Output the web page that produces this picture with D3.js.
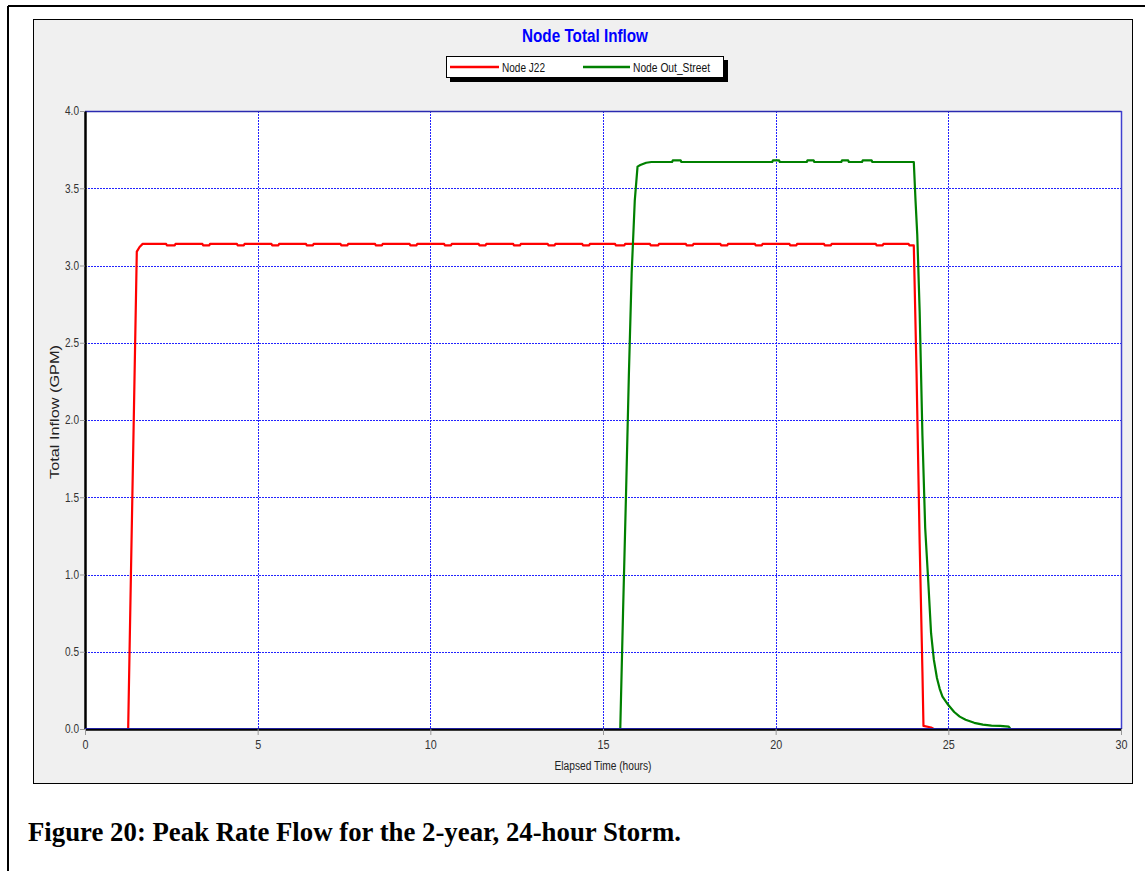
<!DOCTYPE html>
<html><head><meta charset="utf-8">
<script src="https://cdn.jsdelivr.net/npm/d3@7"></script>
<style>
body{margin:0;background:#fff;}
svg{display:block;}
</style></head>
<body>
<svg id="c" width="1145" height="871"></svg>
<script>
// ---------- data ----------
const chartTitle = "Node Total Inflow";
const caption = "Figure 20: Peak Rate Flow for the 2-year, 24-hour Storm.";
const xLabel = "Elapsed Time (hours)";
const yLabel = "Total Inflow (GPM)";
const seriesNames = ["Node J22", "Node Out_Street"];
const xTicks = [0, 5, 10, 15, 20, 25, 30];
const yTicks = [0.0, 0.5, 1.0, 1.5, 2.0, 2.5, 3.0, 3.5, 4.0];

// Node J22 [hours, GPM]
const j22 = [
  [0,0],[1.25,0],[1.33,1.0],[1.42,2.1],[1.5,3.09],[1.58,3.12],[1.67,3.14],
  [2.35,3.14],[2.37,3.13],[2.6,3.13],[2.62,3.14],
  [3.4,3.14],[3.42,3.13],[3.6,3.13],[3.62,3.14],
  [4.4,3.14],[4.42,3.13],[4.6,3.13],[4.62,3.14],
  [5.4,3.14],[5.42,3.13],[5.6,3.13],[5.62,3.14],
  [6.4,3.14],[6.42,3.13],[6.6,3.13],[6.62,3.14],
  [7.4,3.14],[7.42,3.13],[7.6,3.13],[7.62,3.14],
  [8.4,3.14],[8.42,3.13],[8.6,3.13],[8.62,3.14],
  [9.4,3.14],[9.42,3.13],[9.6,3.13],[9.62,3.14],
  [10.4,3.14],[10.42,3.13],[10.6,3.13],[10.62,3.14],
  [11.4,3.14],[11.42,3.13],[11.6,3.13],[11.62,3.14],
  [12.4,3.14],[12.42,3.13],[12.6,3.13],[12.62,3.14],
  [13.4,3.14],[13.42,3.13],[13.6,3.13],[13.62,3.14],
  [14.4,3.14],[14.42,3.13],[14.6,3.13],[14.62,3.14],
  [15.35,3.14],[15.37,3.13],[15.62,3.13],[15.64,3.14],
  [16.36,3.14],[16.38,3.13],[16.6,3.13],[16.62,3.14],
  [17.4,3.14],[17.42,3.13],[17.6,3.13],[17.62,3.14],
  [18.4,3.14],[18.42,3.13],[18.6,3.13],[18.62,3.14],
  [19.4,3.14],[19.42,3.13],[19.6,3.13],[19.62,3.14],
  [20.4,3.14],[20.42,3.13],[20.6,3.13],[20.62,3.14],
  [21.4,3.14],[21.42,3.13],[21.6,3.13],[21.62,3.14],
  [22.9,3.14],[22.92,3.13],[23.1,3.13],[23.12,3.14],
  [23.85,3.14],[23.87,3.13],[24.0,3.13],
  [24.08,2.3],[24.17,1.2],[24.25,0.37],[24.28,0.02],[24.5,0.01],[24.58,0],[30,0]
];

// Node Out_Street [hours, GPM]
const outStreet = [
  [0,0],[15.5,0],[15.58,0.75],[15.67,1.55],[15.75,2.3],[15.83,2.95],[15.92,3.42],
  [16.0,3.64],[16.08,3.65],[16.25,3.665],[16.4,3.67],
  [17.0,3.67],[17.02,3.68],[17.25,3.68],[17.27,3.67],
  [19.9,3.67],[19.92,3.68],[20.1,3.68],[20.12,3.67],
  [20.9,3.67],[20.92,3.68],[21.1,3.68],[21.12,3.67],
  [21.9,3.67],[21.92,3.68],[22.1,3.68],[22.12,3.67],
  [22.5,3.67],[22.52,3.68],[22.78,3.68],[22.8,3.67],
  [24.0,3.67],[24.05,3.42],[24.1,3.2],[24.17,2.7],[24.25,1.9],[24.33,1.3],
  [24.42,0.95],[24.5,0.62],[24.58,0.45],[24.67,0.33],[24.75,0.26],[24.83,0.21],
  [25.0,0.155],[25.17,0.11],[25.33,0.08],[25.5,0.06],[25.75,0.04],[26.0,0.028],
  [26.25,0.022],[26.5,0.02],[26.75,0.015],[26.8,0],[30,0]
];

const colors = ["#ff0000", "#008000"];

// ---------- drawing ----------
const svg = d3.select("#c");
const W = 1145, H = 871;

// outer frame
svg.append("line").attr("x1",8).attr("y1",6).attr("x2",W).attr("y2",6).attr("stroke","#000").attr("stroke-width",2);
svg.append("line").attr("x1",8).attr("y1",6).attr("x2",8).attr("y2",H).attr("stroke","#000").attr("stroke-width",2);

// inner panel
svg.append("rect").attr("x",33.5).attr("y",19.5).attr("width",1099).attr("height",764)
  .attr("fill","#f0f0f0").attr("stroke","#000").attr("stroke-width",1);

const x = d3.scaleLinear().domain([0,30]).range([85,1121]);
const y = d3.scaleLinear().domain([0,4]).range([729,111]);

// plot background
svg.append("rect").attr("x",x(0)).attr("y",y(4)).attr("width",x(30)-x(0)).attr("height",y(0)-y(4)).attr("fill","#fff");

// grid
const grid = svg.append("g").attr("shape-rendering","crispEdges");
grid.selectAll(".gx").data(xTicks.filter(t=>t>0&&t<30)).join("line")
  .attr("x1",d=>Math.round(x(d))+0.5).attr("x2",d=>Math.round(x(d))+0.5)
  .attr("y1",y(4)).attr("y2",y(0))
  .attr("stroke","#2222ff").attr("stroke-width",1).attr("stroke-dasharray","2,1");
grid.selectAll(".gy").data(yTicks.filter(t=>t>0&&t<4)).join("line")
  .attr("y1",d=>Math.round(y(d))+0.5).attr("y2",d=>Math.round(y(d))+0.5)
  .attr("x1",x(0)).attr("x2",x(30))
  .attr("stroke","#2222ff").attr("stroke-width",1).attr("stroke-dasharray","2,1");

// top and right borders
svg.append("line").attr("x1",x(0)).attr("x2",x(30)+0.5).attr("y1",y(4)+0.5).attr("y2",y(4)+0.5).attr("stroke","#2a2ab0").attr("stroke-width",1.5);
svg.append("line").attr("x1",x(30)+0.5).attr("x2",x(30)+0.5).attr("y1",y(4)).attr("y2",y(0)).attr("stroke","#4040d0").attr("stroke-width",1.5);

// series
const line = d3.line().x(d=>x(d[0])).y(d=>y(d[1]));
[j22, outStreet].forEach((s,i)=>{
  svg.append("path").datum(s).attr("d",line).attr("fill","none")
    .attr("stroke",colors[i]).attr("stroke-width",2.2).attr("stroke-linejoin","round");
});

// axes (left & bottom, black)
const yAxis = d3.axisLeft(y).tickValues(yTicks).tickFormat(d3.format(".1f")).tickSize(5).tickSizeOuter(0);
const gy = svg.append("g").attr("transform",`translate(${x(0)},0)`).call(yAxis);
gy.select(".domain").attr("stroke","#000").attr("stroke-width",2.5);
gy.selectAll(".tick line").attr("stroke","#999");
gy.selectAll(".tick text").attr("font-family","Liberation Sans, Arial, sans-serif").attr("font-size",12).attr("fill","#333")
  .attr("x",-6).attr("textLength",14).attr("lengthAdjust","spacingAndGlyphs");

const xAxis = d3.axisBottom(x).tickValues(xTicks).tickFormat(d3.format("d")).tickSize(6).tickSizeOuter(0);
const gx = svg.append("g").attr("transform",`translate(0,${y(0)})`).call(xAxis);
gx.select(".domain").attr("stroke","#000").attr("stroke-width",2.5);
gx.selectAll(".tick line").attr("stroke","#999");
gx.selectAll(".tick text").attr("font-family","Liberation Sans, Arial, sans-serif").attr("font-size",12).attr("fill","#333").attr("y",11)
  .each(function(d){ const n = String(d).length; d3.select(this).attr("textLength", n*6).attr("lengthAdjust","spacingAndGlyphs"); });
// thin blue line on the zero axis
svg.append("line").attr("x1",x(0)).attr("x2",x(30)).attr("y1",y(0)-0.5).attr("y2",y(0)-0.5).attr("stroke","#2020a0").attr("stroke-width",1);

// axis labels
svg.append("text").attr("x",603).attr("y",770).attr("text-anchor","middle")
  .attr("font-family","Liberation Sans, Arial, sans-serif").attr("font-size",12).attr("fill","#222")
  .attr("textLength",97).attr("lengthAdjust","spacingAndGlyphs").text(xLabel);
svg.append("text").attr("transform","translate(59,412) rotate(-90)").attr("text-anchor","middle")
  .attr("font-family","Liberation Sans, Arial, sans-serif").attr("font-size",12.5)
  .attr("textLength",134).attr("lengthAdjust","spacingAndGlyphs")
  .attr("fill","#222").text(yLabel);

// title
svg.append("text").attr("x",585).attr("y",42).attr("text-anchor","middle")
  .attr("font-family","Liberation Sans, Arial, sans-serif")
  .attr("font-size",19).attr("font-weight","bold").attr("fill","#0000ff")
  .attr("textLength",126).attr("lengthAdjust","spacingAndGlyphs").text(chartTitle);

// legend
const lg = svg.append("g");
lg.append("rect").attr("x",450).attr("y",60).attr("width",278).attr("height",22).attr("fill","#000");
lg.append("rect").attr("x",446.5).attr("y",56.5).attr("width",277).attr("height",21).attr("fill","#fff").attr("stroke","#000").attr("stroke-width",1);
const legX = [[450,499,502,43],[583,630,633,77]];
seriesNames.forEach((n,i)=>{
  lg.append("line").attr("x1",legX[i][0]).attr("x2",legX[i][1]).attr("y1",67).attr("y2",67)
    .attr("stroke",colors[i]).attr("stroke-width",2.5);
  lg.append("text").attr("x",legX[i][2]).attr("y",71.5)
    .attr("font-family","Liberation Sans, Arial, sans-serif")
    .attr("font-size",12).attr("fill","#111")
    .attr("textLength",legX[i][3]).attr("lengthAdjust","spacingAndGlyphs").text(n);
});

// caption
svg.append("text").attr("x",28).attr("y",841).attr("font-family","Liberation Serif, Times New Roman, serif")
  .attr("font-size",26.5).attr("font-weight","bold").attr("fill","#000")
  .attr("textLength",653).attr("lengthAdjust","spacingAndGlyphs").text(caption);
</script>
</body></html>
